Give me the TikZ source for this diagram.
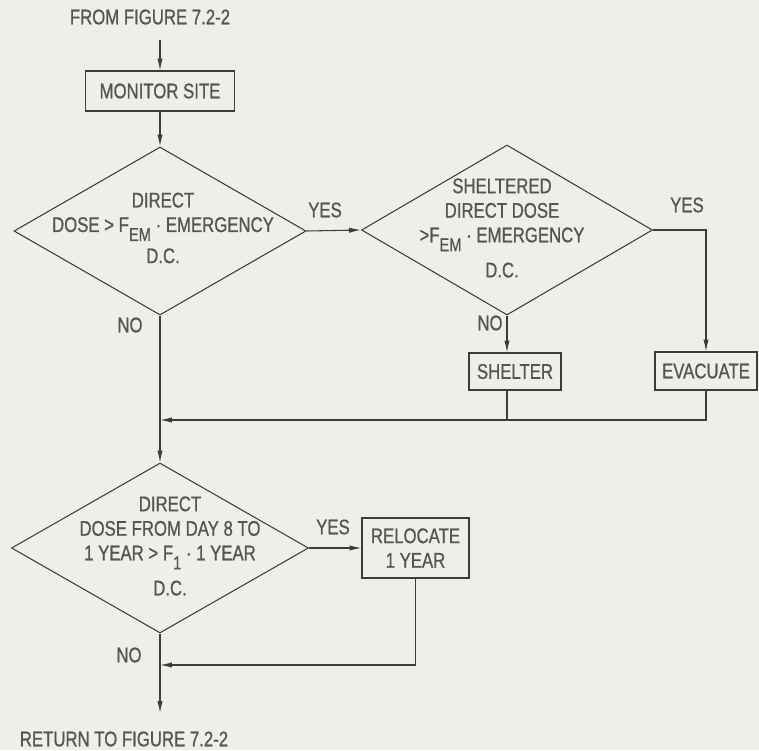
\documentclass[tikz,border=0pt]{standalone}
\usepackage{fontspec}
\setmainfont{Liberation Sans}[FakeStretch=0.79, FakeBold=0.8]
\usetikzlibrary{shapes.geometric,arrows.meta}
\definecolor{paper}{RGB}{239,239,234}
\definecolor{ink}{RGB}{60,60,60}
\definecolor{inktext}{RGB}{85,85,85}
\newlength{\pxl}
\setlength{\pxl}{0.0265cm}
\newcommand{\lowsub}[1]{\raisebox{-0.8ex}{\fontsize{14}{14}\selectfont #1}}

\begin{document}
\begin{tikzpicture}[x=1\pxl, y=-1\pxl, color=ink, line width=0.8pt,
		>={Latex[length=9pt,width=4pt]},
		every node/.style={text=inktext, font=\fontsize{16}{18.5}\selectfont},
		box/.style={draw=ink, rectangle, inner sep=0pt},
		decision/.style={draw=ink, diamond, inner sep=0pt},
		dtext/.style={align=center, inner sep=0pt}]
			\fill[paper] (0,0) rectangle (759,750);
			\useasboundingbox (0,0) rectangle (759,750);
			
			\node (from) at (150,17) {FROM FIGURE 7.2-2};
			\coordinate (start) at (160,40);
			\node[box, minimum width=149\pxl, minimum height=40\pxl] (monitor) at (160,91) {MONITOR SITE};
			
			\node[decision, minimum width=292\pxl, minimum height=168\pxl] (q1) at (160,231) {};
			\node[dtext] (q1t) at (163,228) {DIRECT\\DOSE > F\lowsub{EM} · EMERGENCY\\[5pt]D.C.};
			
			\node[decision, minimum width=291\pxl, minimum height=170\pxl] (q2) at (507,230) {};
			\node[dtext] (q2t) at (502,228) {SHELTERED\\DIRECT DOSE\\>F\lowsub{EM} · EMERGENCY\\[8pt]D.C.};
			
			\node[box, minimum width=92\pxl, minimum height=37\pxl] (shelter) at (515,371.5) {SHELTER};
			\node[box, minimum width=102\pxl, minimum height=38\pxl] (evacuate) at (706,371) {EVACUATE};
			\coordinate (j1) at (160,420);
			
			\node[decision, minimum width=297\pxl, minimum height=170\pxl] (q3) at (160,548) {};
			\node[dtext] (q3t) at (170,546) {DIRECT\\DOSE FROM DAY 8 TO\\1 YEAR > F\lowsub{1} · 1 YEAR\\[8pt]D.C.};
			
			\node[box, minimum width=107\pxl, minimum height=60\pxl, align=center] (relocate) at (415.5,548) {RELOCATE\\1 YEAR};
			\coordinate (j2) at (160,665);
			\coordinate (endp) at (160,713);
			\node (ret) at (124,739) {RETURN TO FIGURE 7.2-2};
			
			\draw[->] (start) -- (monitor);
			\draw[->] (monitor) -- (q1);
			\draw[->] (q1.east) -- (q2.west);
			\draw[->] (q2.east) -| (evacuate.north);
			\draw[->] (q2.south) -- (q2.south |- shelter.north);
			\draw (q2.south |- shelter.south) -- (q2.south |- j1);
			\draw[->] (evacuate.south) |- (j1);
			\draw[->] (q1) -- (q3);
			\draw[->] (q3.east) -- (relocate.west);
			\draw[->] (relocate.south) |- (j2);
			\draw[->] (q3.south) -- (endp);
			
			\node (yes1) at (325,210) {YES};
			\node (no1) at (130,325) {NO};
			\node (yes2) at (687,205) {YES};
			\node (no2) at (490,323) {NO};
			\node (yes3) at (333,527) {YES};
			\node (no3) at (129,655) {NO};
		\end{tikzpicture}
\end{document}
